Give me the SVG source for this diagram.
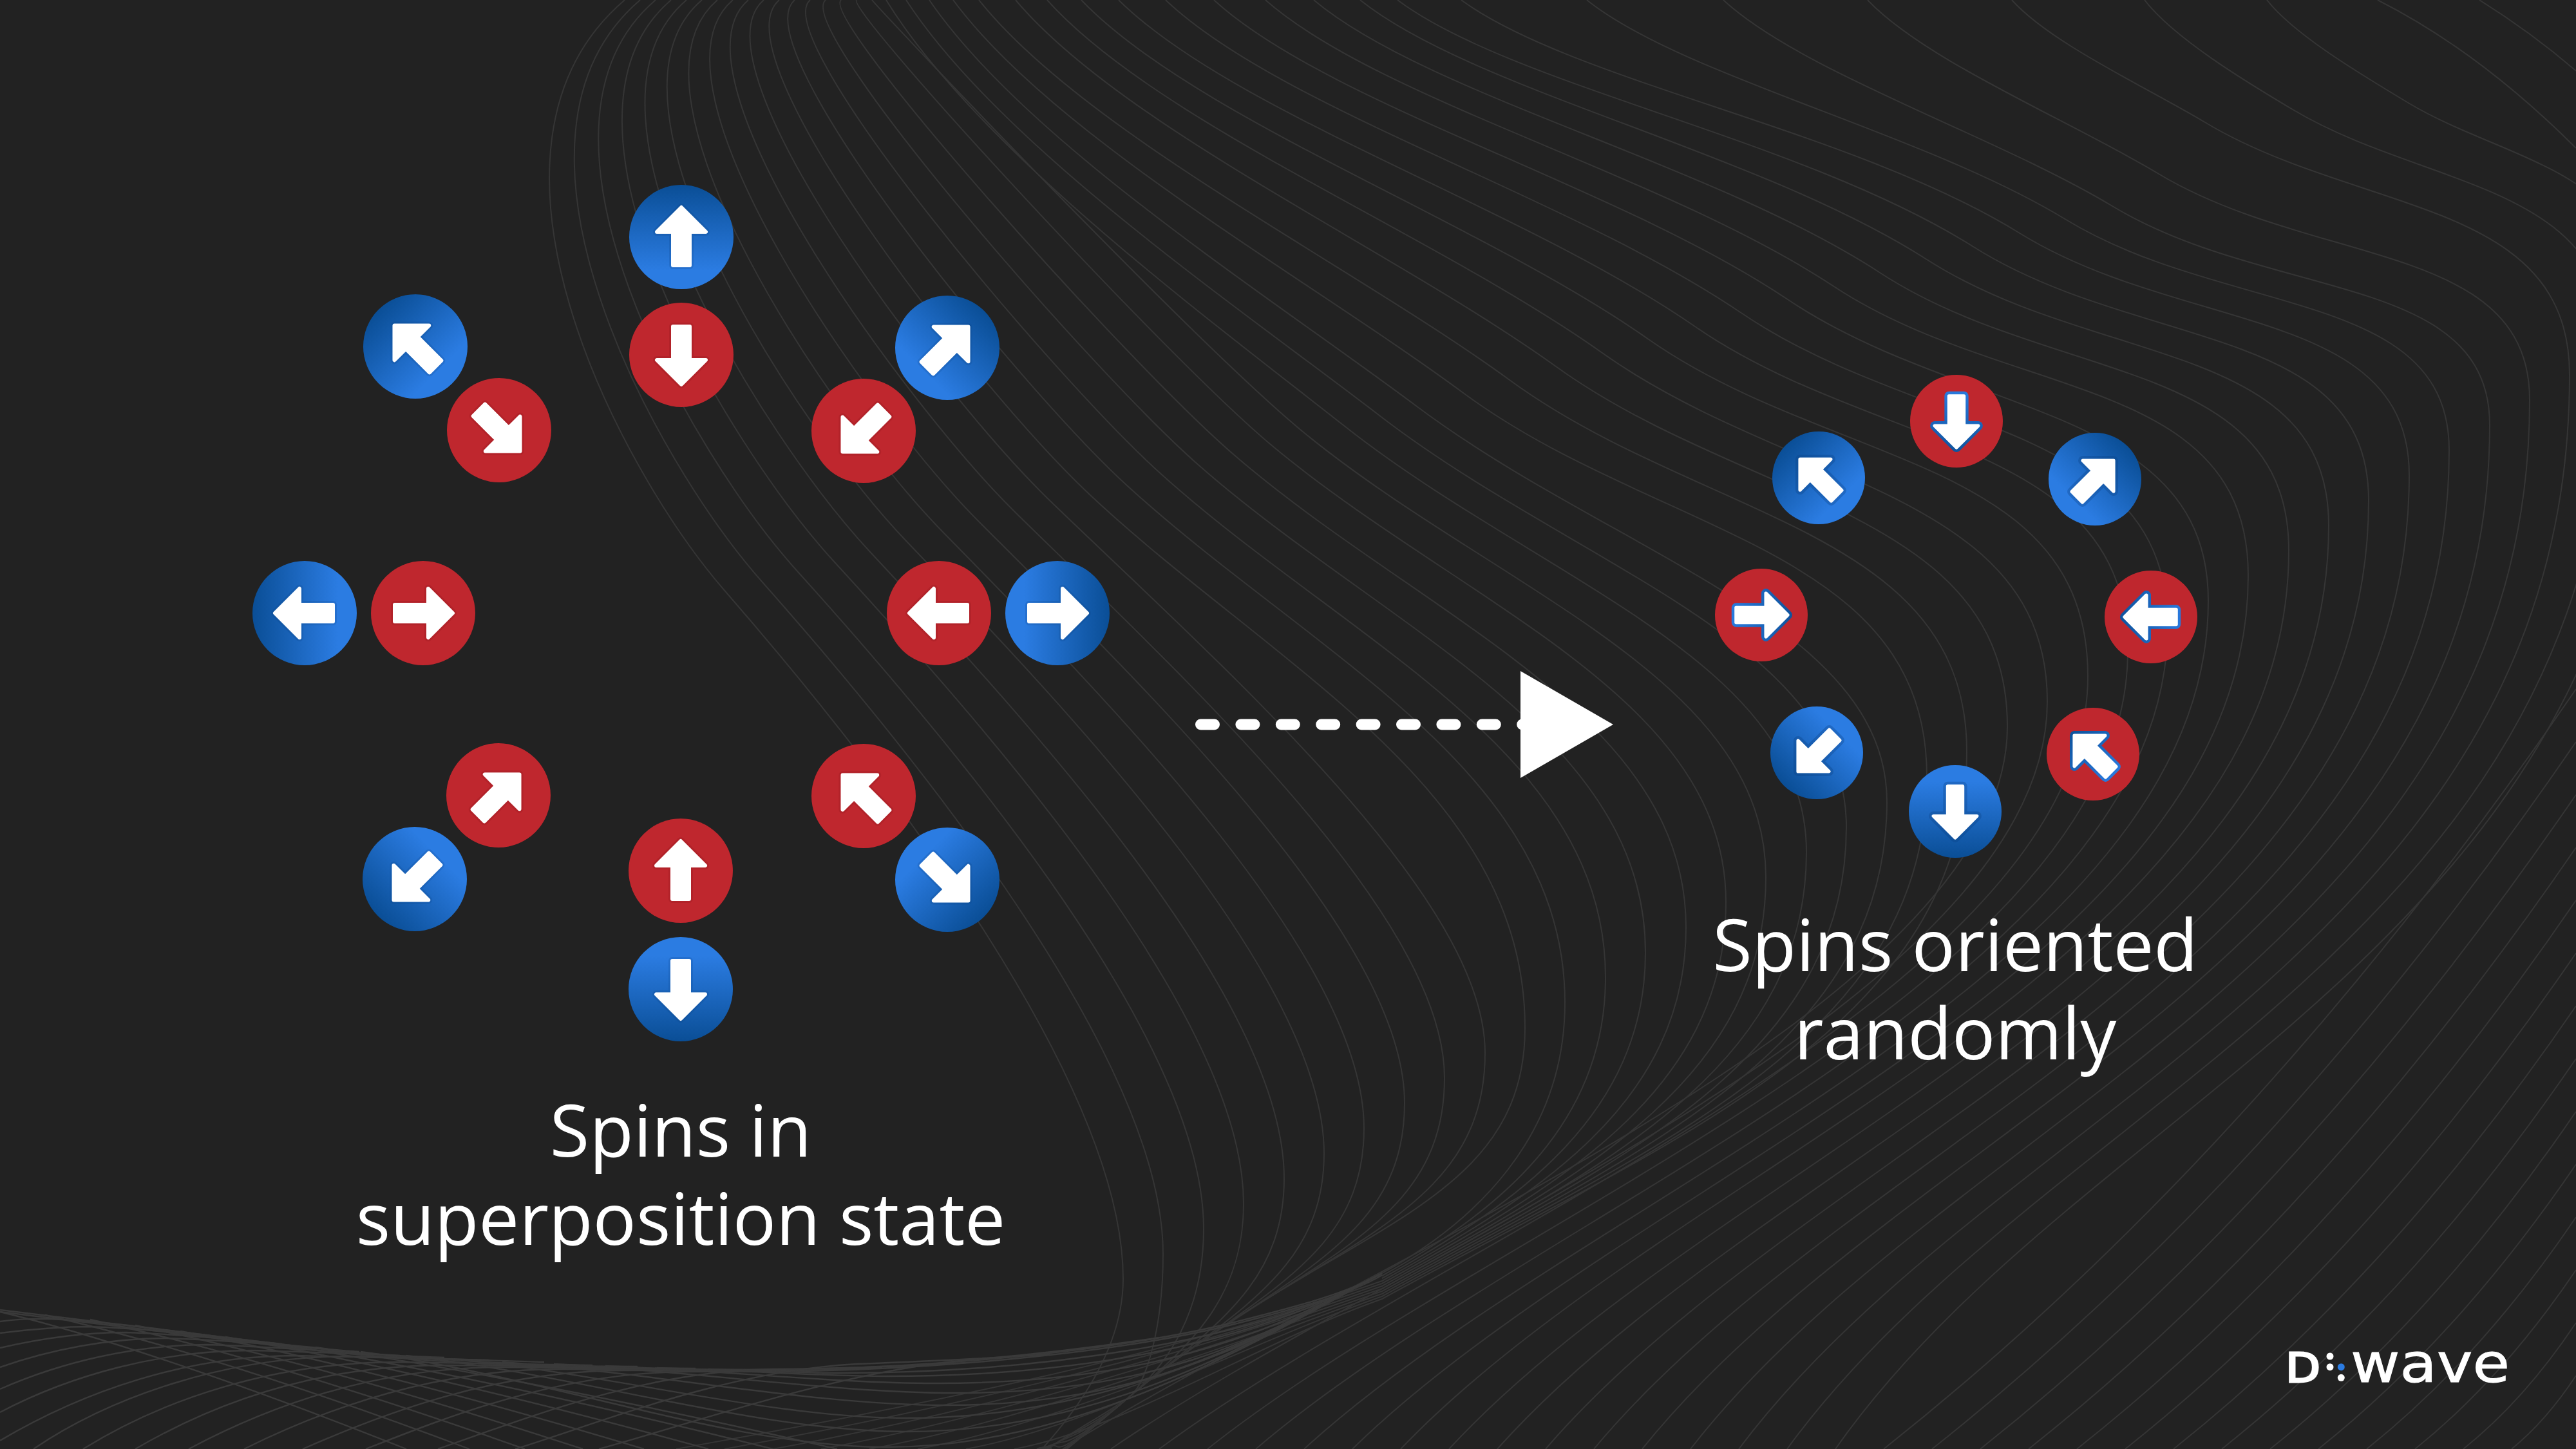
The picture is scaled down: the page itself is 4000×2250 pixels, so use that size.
<svg xmlns="http://www.w3.org/2000/svg" xmlns:xlink="http://www.w3.org/1999/xlink" width="4000" height="2250" viewBox="0 0 4000 2250">
<style>
.a{fill:none;stroke:#353535;stroke-width:2}
.m{fill:none;stroke:#3a3a3a;stroke-width:2.4}
.t{font-family:"Open Sans","Noto Sans",sans-serif;font-size:112px;fill:#fff;text-anchor:middle}
.w{fill:#fff;stroke:#fff;stroke-width:6;stroke-linejoin:round}
.lg{font-family:"DejaVu Sans",sans-serif;fill:#fff;stroke:#fff;stroke-width:1}
</style>
<defs>
<linearGradient id="bg1" x1="0.5" y1="0" x2="0.5" y2="1"><stop offset="0" stop-color="#0a4e96"/><stop offset="0.82" stop-color="#2b7ce2"/></linearGradient>
<linearGradient id="bg2" gradientUnits="userSpaceOnUse" x1="0" y1="-60" x2="0" y2="60"><stop offset="0" stop-color="#0d5199"/><stop offset="1" stop-color="#2b7ce2"/></linearGradient>
<path id="ar" d="M0-46 38-8H13V44H-13V-8H-38Z"/>
<g id="tb"><circle r="81" fill="url(#bg1)"/><use href="#ar" fill="#0a3f80" stroke="#0a3f80" stroke-width="12" stroke-linejoin="round" opacity=".18"/><use href="#ar" class="w"/></g>
<g id="tr"><circle r="81" fill="#bf272e"/><use href="#ar" fill="#7a1015" stroke="#7a1015" stroke-width="12" stroke-linejoin="round" opacity=".18"/><use href="#ar" class="w"/></g>
<g id="sb" transform="scale(.889)"><circle r="81" fill="url(#bg1)"/><use href="#ar" fill="#0a3f80" stroke="#0a3f80" stroke-width="16" stroke-linejoin="round" opacity=".3"/><use href="#ar" class="w"/></g>
<g id="sr" transform="scale(.889)"><circle r="81" fill="#bf272e"/><use href="#ar" fill="url(#bg2)" stroke="url(#bg2)" stroke-width="16" stroke-linejoin="round"/><use href="#ar" class="w"/></g>
</defs>
<rect width="4000" height="2250" fill="#222"/>
<g id="background-lines">
<path class="a" d="M970 0C700 230 960 727 1126 918C1386 1217 1744 1687 1744 1986C1744 2080 1690 2170 1618 2250"/>
<path class="a" d="M994 0C741 216 1017 715 1183 903C1445 1199 1806 1655 1806 1947C1806 2057 1781 2146 1756 2167S1660 2225 1628 2250"/>
<path class="a" d="M1018 0C782 201 1073 704 1239 888C1503 1181 1869 1622 1869 1908C1869 2038 1812 2119 1756 2167S1660 2225 1626 2250"/>
<path class="a" d="M1042 0C823 187 1130 692 1296 873C1563 1164 1931 1590 1931 1869C1931 2018 1844 2092 1756 2167S1660 2225 1624 2250"/>
<path class="a" d="M1066 0C864 172 1186 680 1352 858C1622 1147 1994 1558 1994 1830C1994 1999 1875 2066 1756 2167S1660 2225 1622 2250"/>
<path class="a" d="M1090 0C904 158 1243 669 1409 842C1681 1126 2056 1525 2056 1791C2056 1979 1906 2040 1756 2167S1660 2225 1620 2250"/>
<path class="a" d="M1114 0C945 144 1299 658 1465 827C1739 1106 2118 1493 2118 1752C2118 1960 1937 2013 1756 2167S1660 2225 1618 2250"/>
<path class="a" d="M1138 0C986 129 1356 646 1522 812C1799 1089 2181 1461 2181 1713C2181 1940 1968 1987 1756 2167S1660 2225 1616 2250"/>
<path class="a" d="M1162 0C1027 115 1412 634 1578 797C1857 1070 2243 1428 2243 1674C2243 1921 2000 1960 1756 2167S1660 2225 1614 2250"/>
<path class="a" d="M1186 0C1068 101 1469 623 1635 782C1917 1053 2306 1396 2306 1635C2306 1901 2031 1933 1756 2167S1660 2225 1612 2250"/>
<path class="a" d="M1210 0C1109 86 1525 611 1691 767C1975 1034 2368 1223 2368 1596C2368 1882 2062 1907 1756 2167S1660 2225 1610 2250"/>
<path class="a" d="M1234 0C1150 72 1582 599 1748 752C2034 1015 2430 1195 2430 1557C2430 1767 2288 1899 2146 1977"/>
<path class="a" d="M1258 0C1190 58 1638 588 1804 737C2093 997 2493 1167 2493 1518C2493 1750 2320 1885 2146 1981"/>
<path class="a" d="M1282 0C1231 43 1695 576 1861 722C2152 978 2555 1138 2555 1479C2555 1732 2351 1872 2146 1985"/>
<path class="a" d="M1306 0C1272 29 1751 564 1917 707C2211 960 2618 1110 2618 1440C2618 1715 2382 1859 2146 1989C1784 2116 1379 2191 1050 2250"/>
<path class="a" d="M1330 0C1313 14 1808 552 1974 691C2271 939 2680 1081 2680 1401C2680 1697 2413 1846 2146 1993C1809 2111 1431 2195 1125 2250"/>
<path class="a" d="M1354 0C1370 20 1864 542 2030 676C2329 918 2742 1053 2742 1362C2742 1680 2444 1833 2146 1997C1834 2106 1484 2199 1200 2250"/>
<path class="a" d="M1376 0C1518 231 1874 493 2087 661C2389 900 2805 1025 2805 1323C2805 1662 2476 1819 2146 2001C1859 2101 1536 2203 1275 2250"/>
<path class="a" d="M1407 0C1554 226 1922 476 2143 646C2447 880 2867 997 2867 1284C2867 1645 2507 1806 2146 2005C1883 2097 1589 2207 1350 2250"/>
<path class="a" d="M1443 0C1594 221 1973 461 2200 631C2507 861 2930 969 2930 1245C2930 1627 2538 1793 2146 2009C1908 2092 1641 2211 1425 2250"/>
<path class="a" d="M1480 0C1638 214 2034 434 2272 610C2574 833 2992 848 2992 1206C2992 1610 2569 1780 2146 2013C1933 2088 1694 2215 1500 2250"/>
<path class="a" d="M1520 0C1685 207 2097 410 2344 590C2642 808 3054 821 3054 1167C3054 1592 2600 1767 2146 2017C1958 2083 1746 2219 1575 2250"/>
<path class="a" d="M1577 0C1745 199 2164 388 2416 569C2710 781 3117 793 3117 1128C3117 1566 2105 1961 1650 2250"/>
<path class="a" d="M1626 0C1798 192 2229 364 2488 548C2778 754 3179 764 3179 1089C3179 1553 2176 1940 1725 2250"/>
<path class="a" d="M1679 0C1855 184 2296 342 2560 527C2846 727 3242 710 3242 1050C3242 1542 2247 1919 1800 2250"/>
<path class="a" d="M1737 0C1916 177 2363 321 2632 507C2914 702 3304 683 3304 1011C3304 1531 2318 1897 1875 2250"/>
<path class="a" d="M1810 0C1989 170 2436 304 2704 486C2982 675 3366 656 3366 972C3366 1522 2389 1874 1950 2250"/>
<path class="a" d="M1885 0C2063 163 2509 286 2776 465C3050 649 3429 629 3429 933C3429 1512 2460 1851 2025 2250"/>
<path class="a" d="M1965 0C2142 156 2583 270 2848 445C3118 623 3491 580 3491 894C3491 1504 2531 1827 2100 2250"/>
<path class="a" d="M2040 0C2216 148 2656 252 2920 424C3186 597 3554 553 3554 855C3554 1497 2602 1802 2175 2250"/>
<path class="a" d="M2112 0C2288 141 2728 234 2992 403C3254 571 3616 527 3616 816C3616 1490 2673 1791 2250 2250"/>
<path class="a" d="M2170 0C2349 134 2796 214 3064 383C3322 546 3678 501 3678 777C3678 1484 2744 1779 2325 2250"/>
<path class="a" d="M2269 0C2442 127 2876 201 3136 362C3390 519 3741 475 3741 738C3741 1479 2816 1766 2400 2250"/>
<path class="a" d="M2464 0C2613 119 2985 205 3208 341C3458 493 3803 448 3803 699C3803 1475 2887 1754 2475 2250"/>
<path class="a" d="M2676 0C2797 112 3099 211 3280 320C3526 468 3866 422 3866 660C3866 1471 2958 1741 2550 2250"/>
<path class="a" d="M2900 0C2990 95 3216 188 3352 270C3594 415 3928 375 3928 621C3928 1468 3029 1729 2625 2250"/>
<path class="a" d="M3124 0C3184 67 3334 136 3424 190C3662 333 3990 308 3990 582C3990 1466 3100 1716 2700 2250"/>
<path class="a" d="M3330 0C3376 60 3491 129 3560 170C3767 294 4053 282 4053 543C4053 1465 3171 1704 2775 2250"/>
<path class="a" d="M3520 0C3564 56 3674 120 3740 160C3897 254 4115 263 4115 504C4115 1464 3242 1691 2850 2250"/>
<path class="a" d="M3692 0Q3850 80 4000 230"/>
<path class="a" d="M3850 0Q3930 50 4000 110"/>
<path class="a" d="M2925 2250Q3506 1790 4000 1070"/>
<path class="a" d="M3000 2250Q3540 1822 4000 1152"/>
<path class="a" d="M3075 2250Q3575 1854 4000 1234"/>
<path class="a" d="M3150 2250Q3609 1886 4000 1316"/>
<path class="a" d="M3225 2250Q3644 1918 4000 1398"/>
<path class="a" d="M3300 2250Q3678 1950 4000 1480"/>
<path class="a" d="M3375 2250Q3713 1982 4000 1562"/>
<path class="a" d="M3450 2250Q3747 2014 4000 1644"/>
<path class="a" d="M3525 2250Q3782 2046 4000 1726"/>
<path class="a" d="M3600 2250Q3816 2078 4000 1808"/>
<path class="a" d="M3675 2250Q3851 2110 4000 1890"/>
<path class="a" d="M3750 2250Q3885 2142 4000 1972"/>
<path class="a" d="M3825 2250Q3920 2174 4000 2054"/>
<path class="a" d="M3900 2250Q3954 2206 4000 2136"/>
<path id="ridge" class="m" d="M0 2034C150 2052 300 2070 459 2090C620 2110 900 2127 1163 2127C1450 2127 1750 2095 1917 2053C2000 2032 2090 2010 2146 1977"/>
<path class="m" transform="translate(0,3)" d="M0 2034C150 2052 300 2070 459 2090C620 2110 900 2127 1163 2127C1450 2127 1750 2095 1917 2053C2000 2032 2090 2010 2146 1977"/>
<path class="m" d="M0 2037Q240 2095 631 2250"/>
<path class="m" d="M70 2042Q340 2104 729 2250"/>
<path class="m" d="M140 2049Q417 2109 815 2250"/>
<path class="m" d="M210 2058Q495 2116 905 2250"/>
<path class="m" d="M280 2067Q575 2122 1000 2250"/>
<path class="m" d="M350 2076Q657 2128 1100 2250"/>
<path class="m" d="M420 2085Q740 2135 1200 2250"/>
<path class="m" d="M490 2092Q822 2140 1300 2250"/>
<path class="m" d="M560 2099C846 2136 1132 2247 1377 2247C1677 2247 1946 2087 2146 1977"/>
<path class="m" d="M630 2105C902 2135 1175 2223 1408 2223C1708 2223 1946 2087 2146 1977"/>
<path class="m" d="M700 2110C948 2133 1196 2202 1408 2202C1708 2202 1946 2087 2146 1977"/>
<path class="m" d="M780 2115C1021 2132 1262 2182 1469 2182C1769 2182 1946 2087 2146 1977"/>
<path class="m" d="M860 2118C1078 2129 1297 2163 1484 2163C1784 2163 1946 2087 2146 1977"/>
<path class="m" d="M940 2121C1120 2128 1300 2148 1454 2148C1754 2148 1946 2087 2146 1977"/>
<path class="m" d="M1020 2124C1145 2127 1270 2137 1377 2137C1677 2137 1946 2087 2146 1977"/>
<path class="m" d="M1100 2126C1170 2128 1240 2132 1300 2132C1600 2132 1946 2087 2146 1977"/>
<path class="m" d="M0 2052C40 2047 50 2048 75 2048C175 2052 275 2068 375 2080"/>
<path class="m" d="M0 2070C50 2064 100 2060 138 2060C238 2063 338 2076 438 2087"/>
<path class="m" d="M0 2093C65 2078 130 2069 195 2069C295 2072 395 2084 495 2093"/>
<path class="m" d="M0 2123C80 2095 170 2078 258 2078C358 2081 458 2091 558 2099"/>
<path class="m" d="M0 2157C95 2115 210 2088 321 2088C421 2091 521 2099 621 2105"/>
<path class="m" d="M0 2193C110 2135 250 2097 390 2097C490 2099 590 2104 690 2108"/>
<path class="m" d="M0 2237C130 2160 290 2105 459 2105C559 2107 659 2110 759 2112"/>
<path class="m" d="M52 2250C170 2170 350 2106 545 2106C645 2108 745 2112 845 2115"/>
<path class="m" d="M129 2250C250 2175 420 2115 620 2115C720 2116 820 2118 920 2120"/>
<path class="m" d="M210 2250C330 2180 490 2120 690 2120C790 2120 890 2121 990 2122"/>
<path class="m" d="M293 2250C415 2185 580 2123 780 2123C880 2123 980 2124 1080 2125"/>
<path class="m" d="M379 2250C500 2190 670 2126 870 2126C970 2126 1070 2127 1170 2127"/>
<path class="m" d="M470 2250C595 2195 770 2128 970 2128C1070 2128 1170 2128 1270 2127"/>
<path class="m" d="M568 2250C695 2200 870 2130 1070 2130C1170 2130 1270 2128 1370 2124"/>
<path class="m" d="M680 2250C810 2205 1000 2128 1200 2126C1300 2125 1400 2122 1500 2116"/>
<path class="m" d="M800 2250C930 2210 1130 2128 1330 2118C1430 2114 1530 2110 1630 2103"/>
<path class="m" d="M930 2250C1060 2215 1300 2130 1500 2112C1600 2104 1700 2092 1800 2077"/>
</g>
<g id="superposition-spins">
<g id="s1"><use href="#tb" transform="translate(1058 368)"/></g>
<g id="s2"><use href="#tr" transform="translate(1058 551) rotate(180)"/></g>
<g id="s3"><use href="#tb" transform="translate(645 538) rotate(315)"/></g>
<g id="s4"><use href="#tr" transform="translate(775 668) rotate(135)"/></g>
<g id="s5"><use href="#tb" transform="translate(1471 540) rotate(45)"/></g>
<g id="s6"><use href="#tr" transform="translate(1341 669) rotate(225)"/></g>
<g id="s7"><use href="#tb" transform="translate(473 952) rotate(270)"/></g>
<g id="s8"><use href="#tr" transform="translate(657 952) rotate(90)"/></g>
<g id="s9"><use href="#tr" transform="translate(1458 952) rotate(270)"/></g>
<g id="s10"><use href="#tb" transform="translate(1642 952) rotate(90)"/></g>
<g id="s11"><use href="#tr" transform="translate(774 1235) rotate(45)"/></g>
<g id="s12"><use href="#tb" transform="translate(644 1365) rotate(225)"/></g>
<g id="s13"><use href="#tr" transform="translate(1057 1352)"/></g>
<g id="s14"><use href="#tb" transform="translate(1057 1536) rotate(180)"/></g>
<g id="s15"><use href="#tr" transform="translate(1341 1236) rotate(315)"/></g>
<g id="s16"><use href="#tb" transform="translate(1471 1366) rotate(135)"/></g>
</g>
<g id="random-spins">
<g id="r1"><use href="#sr" transform="translate(3038 654) rotate(180)"/></g>
<g id="r2"><use href="#sb" transform="translate(2824 742) rotate(315)"/></g>
<g id="r3"><use href="#sb" transform="translate(3253 744) rotate(45)"/></g>
<g id="r4"><use href="#sr" transform="translate(2735 955) rotate(90)"/></g>
<g id="r5"><use href="#sr" transform="translate(3340 958) rotate(270)"/></g>
<g id="r6"><use href="#sb" transform="translate(2821 1169) rotate(225)"/></g>
<g id="r7"><use href="#sb" transform="translate(3036 1260) rotate(180)"/></g>
<g id="r8"><use href="#sr" transform="translate(3250 1171) rotate(315)"/></g>
</g>
<g id="connectors">
<path d="M1864.5 1125H2380" fill="none" stroke="#fff" stroke-width="17" stroke-linecap="round" stroke-dasharray="21 41.4"/>
<polygon points="2361,1042 2505,1125 2361,1208" fill="#fff"/>
</g>
<g id="labels">
<text class="t" x="1057" y="1796">Spins in</text>
<text class="t" x="1057" y="1933">superposition state</text>
<text class="t" x="3036" y="1508">Spins oriented</text>
<text class="t" x="3036" y="1645">randomly</text>
</g>
<g id="logo">
<text class="lg" x="3549" y="2146" font-size="63" textLength="54" lengthAdjust="spacingAndGlyphs" style="stroke-width:3">D</text>
<circle cx="3618" cy="2106" r="5.5" fill="#fff"/><circle cx="3618" cy="2122.7" r="5.5" fill="#fff"/><circle cx="3635.3" cy="2122.7" r="5.5" fill="#2b7ce2"/><circle cx="3635.3" cy="2139.3" r="5.5" fill="#fff"/>
<text class="lg" x="3650" y="2146" font-size="84" textLength="247" lengthAdjust="spacingAndGlyphs">wave</text>
</g>
</svg>
